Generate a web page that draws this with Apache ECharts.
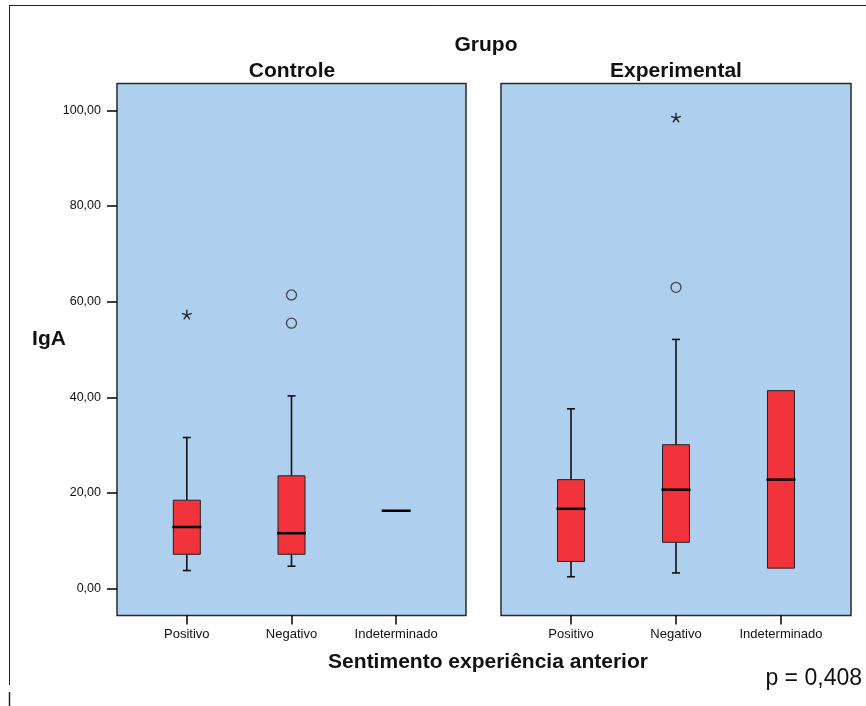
<!DOCTYPE html>
<html>
<head>
<meta charset="utf-8">
<title>IgA por grupo</title>
<script src="https://cdn.jsdelivr.net/npm/echarts@6/dist/echarts.min.js"></script>
<style>
  html, body { margin: 0; padding: 0; background: #fff; }
  #chart { width: 866px; height: 706px; }
</style>
</head>
<body>
<div id="chart"></div>
<script>
// categorias do eixo x
const categorias = ["Positivo", "Negativo", "Indeterminado"];
const grupos = ["Controle", "Experimental"];
const yTicks = [0, 20, 40, 60, 80, 100];

// [x, limite inferior, Q1, mediana, Q3, limite superior]
const caixasControle = [
  [0, 3.8, 7.2, 12.9, 18.5, 31.6],
  [1, 4.7, 7.2, 11.6, 23.6, 40.3],
  [2, 16.3, 16.3, 16.3, 16.3, 16.3]
];
const caixasExperimental = [
  [0, 2.5, 5.7, 16.7, 22.8, 37.6],
  [1, 3.3, 9.7, 20.7, 30.1, 52.1],
  [2, 4.3, 4.3, 22.8, 41.4, 41.4]
];

// outliers (circulo) e extremos (asterisco)
const outliersControle = [[1, 61.4], [1, 55.5]];
const extremosControle = [[0, 57.3]];
const outliersExperimental = [[1, 63.0]];
const extremosExperimental = [[1, 98.5]];

const fonte = "'Liberation Sans', Arial, sans-serif";
const asterisco = "path://M5,5L5,0M5,5L9.76,3.45M5,5L0.24,3.45M5,5L2.06,9.05M5,5L7.94,9.05";

const chart = echarts.init(document.getElementById("chart"));

function renderBox(params, api) {
  const x = api.value(0);
  const lo = api.coord([x, api.value(1)]);
  const q1 = api.coord([x, api.value(2)]);
  const med = api.coord([x, api.value(3)]);
  const q3 = api.coord([x, api.value(4)]);
  const hi = api.coord([x, api.value(5)]);
  const cx = med[0];
  const hw = 13.5;
  const cw = 4;
  const linha = { stroke: "#111", lineWidth: 1.6 };
  const children = [];
  if (hi[1] < q3[1]) {
    children.push({ type: "line", shape: { x1: cx, y1: q3[1], x2: cx, y2: hi[1] }, style: linha });
    children.push({ type: "line", shape: { x1: cx - cw, y1: hi[1], x2: cx + cw, y2: hi[1] }, style: linha });
  }
  if (lo[1] > q1[1]) {
    children.push({ type: "line", shape: { x1: cx, y1: q1[1], x2: cx, y2: lo[1] }, style: linha });
    children.push({ type: "line", shape: { x1: cx - cw, y1: lo[1], x2: cx + cw, y2: lo[1] }, style: linha });
  }
  if (q1[1] - q3[1] > 0.5) {
    children.push({
      type: "rect",
      shape: { x: cx - hw, y: q3[1], width: hw * 2, height: q1[1] - q3[1] },
      style: { fill: "#f1333b", stroke: "#222", lineWidth: 1 }
    });
  }
  children.push({
    type: "line",
    shape: { x1: cx - hw - 1, y1: med[1], x2: cx + hw + 1, y2: med[1] },
    style: { stroke: "#000", lineWidth: 2.5 }
  });
  return { type: "group", children: children };
}

function eixoX(idx) {
  return {
    type: "value",
    gridIndex: idx,
    min: -0.667,
    max: 2.667,
    splitLine: { show: false },
    axisLine: { show: false, onZero: false },
    axisTick: { show: true, customValues: [0, 1, 2], length: 9, lineStyle: { color: "#000", width: 1.5 } },
    axisLabel: {
      customValues: [0, 1, 2],
      formatter: (v) => categorias[Math.round(v)],
      color: "#111",
      fontFamily: fonte,
      fontSize: 13,
      margin: 12
    }
  };
}

function eixoY(idx, mostrar) {
  return {
    type: "value",
    gridIndex: idx,
    min: -5.6,
    max: 105.6,
    splitLine: { show: false },
    axisLine: { show: false, onZero: false },
    axisTick: { show: mostrar, customValues: yTicks, length: 10, lineStyle: { color: "#000", width: 1.5 } },
    axisLabel: {
      show: mostrar,
      customValues: yTicks,
      formatter: (v) => v.toFixed(2).replace(".", ","),
      color: "#111",
      fontFamily: fonte,
      fontSize: 12.5,
      margin: 16
    }
  };
}

const gradeBase = {
  top: 83.5,
  height: 532,
  show: true,
  backgroundColor: "#aecfed",
  borderColor: "#2a2a2a",
  borderWidth: 1.5
};

function texto(t, x, y, size, bold, align) {
  return {
    type: "text",
    x: x,
    y: y,
    style: {
      text: t,
      fill: "#111",
      font: (bold ? "bold " : "") + size + "px " + fonte,
      textAlign: align || "center",
      textVerticalAlign: "middle"
    }
  };
}

const option = {
  animation: false,
  backgroundColor: "#fff",
  grid: [
    Object.assign({ left: 117, width: 349 }, gradeBase),
    Object.assign({ left: 501, width: 350 }, gradeBase)
  ],
  xAxis: [eixoX(0), eixoX(1)],
  yAxis: [eixoY(0, true), eixoY(1, false)],
  series: [
    { type: "custom", xAxisIndex: 0, yAxisIndex: 0, renderItem: renderBox, data: caixasControle },
    { type: "custom", xAxisIndex: 1, yAxisIndex: 1, renderItem: renderBox, data: caixasExperimental },
    {
      type: "scatter", xAxisIndex: 0, yAxisIndex: 0, data: outliersControle,
      symbol: "circle", symbolSize: 10,
      itemStyle: { color: "rgba(0,0,0,0)", borderColor: "#222", borderWidth: 1.3 }
    },
    {
      type: "scatter", xAxisIndex: 1, yAxisIndex: 1, data: outliersExperimental,
      symbol: "circle", symbolSize: 10,
      itemStyle: { color: "rgba(0,0,0,0)", borderColor: "#222", borderWidth: 1.3 }
    },
    {
      type: "scatter", xAxisIndex: 0, yAxisIndex: 0, data: extremosControle,
      symbol: asterisco, symbolSize: 10, symbolKeepAspect: true,
      itemStyle: { color: "rgba(0,0,0,0)", borderColor: "#000", borderWidth: 1.4 }
    },
    {
      type: "scatter", xAxisIndex: 1, yAxisIndex: 1, data: extremosExperimental,
      symbol: asterisco, symbolSize: 10, symbolKeepAspect: true,
      itemStyle: { color: "rgba(0,0,0,0)", borderColor: "#000", borderWidth: 1.4 }
    }
  ],
  graphic: [
    // moldura externa
    { type: "line", shape: { x1: 9, y1: 5.5, x2: 866, y2: 5.5 }, style: { stroke: "#222", lineWidth: 1 } },
    { type: "line", shape: { x1: 9.5, y1: 5, x2: 9.5, y2: 685 }, style: { stroke: "#222", lineWidth: 1 } },
    { type: "line", shape: { x1: 9.5, y1: 692, x2: 9.5, y2: 706 }, style: { stroke: "#222", lineWidth: 1.5 } },
    texto("Grupo", 486, 45, 21, true),
    texto(grupos[0], 292, 71, 21, true),
    texto(grupos[1], 676, 71, 21, true),
    texto("IgA", 49, 339, 21, true),
    texto("Sentimento experiência anterior", 488, 662, 21, true),
    texto("p = 0,408", 862, 679, 23, false, "right")
  ]
};

chart.setOption(option);
</script>
</body>
</html>
